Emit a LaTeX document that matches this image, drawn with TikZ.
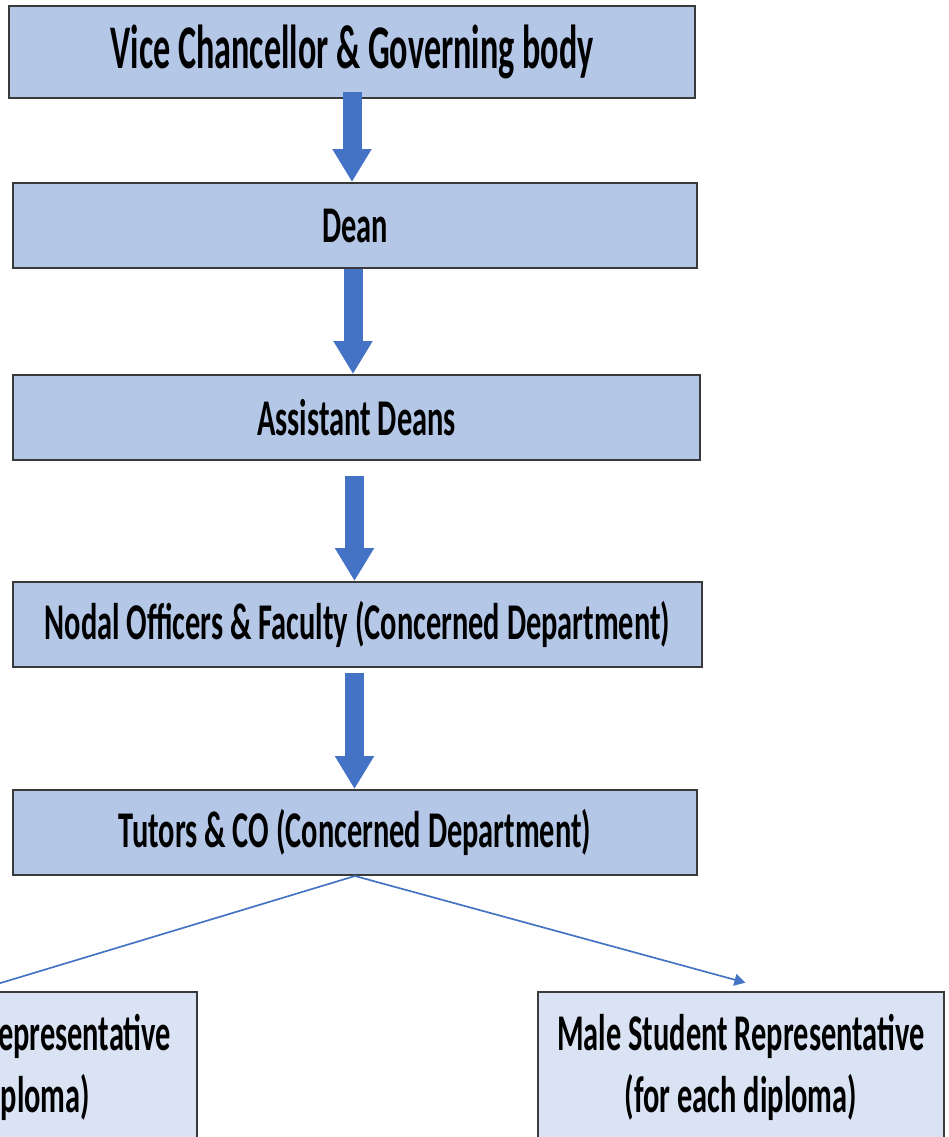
\documentclass[tikz,border=0pt]{standalone}
\usepackage{fontspec}
\newfontfamily\chartfont{Carlito}[FakeStretch=0.59]
\newfontfamily\headfont{Carlito}[FakeStretch=0.55]
\usetikzlibrary{positioning,arrows.meta}
\definecolor{cBox}{HTML}{B4C7E7}
\definecolor{cLow}{HTML}{DAE3F3}
\definecolor{cArrow}{HTML}{4472C4}
\definecolor{cEdge}{HTML}{3A3A3A}
\tikzset{
  base/.style={draw=cEdge,line width=0.6mm,align=center,inner sep=0pt,
    font=\chartfont\bfseries\fontsize{44}{53}\selectfont},
  rank/.style={base,fill=cBox,minimum height=25.5mm,minimum width=205.2mm},
  rep/.style={base,fill=cLow,minimum height=45mm,minimum width=121.8mm},
  bigarr/.style={-{Triangle[width=11.1mm,length=9.9mm]},line width=5.7mm,draw=cArrow,fill=cArrow},
  arr/.style={-{Triangle[width=3.6mm,length=3.3mm]},line width=0.5mm,draw=cArrow,fill=cArrow}}

\begin{document}
\begin{tikzpicture}[x=0.3mm,y=-0.3mm]
\clip (0,0) rectangle (948,1137);
\node[rank,minimum height=27.6mm,minimum width=205.8mm,
  font=\headfont\bfseries\fontsize{53}{60}\selectfont] (vc) at (352,52) {Vice Chancellor \& Governing body};
\node[rank, below=24.9mm of vc, xshift=0.9mm] (dean) {Dean};
\node[rank, below=31.5mm of dean, xshift=0.45mm, minimum width=206.1mm] (adean) {Assistant Deans};
\node[rank, below=36mm of adean, xshift=0.3mm, minimum width=206.7mm] (nodal) {Nodal Officers \& Faculty (Concerned Department)};
\node[rank, below=36.3mm of nodal, xshift=-0.75mm] (tutor) {Tutors \& CO (Concerned Department)};
\node[rep, below=34.5mm of tutor, xshift=115.8mm] (male) {Male Student Representative\\(for each diploma)};
\node[rep, below=34.5mm of tutor, xshift=-114.3mm, minimum width=133.8mm] (female) {Female Student Representative\\(for each diploma)};
% thick links down the chain
\draw[bigarr] ([yshift=2.1mm]vc.south) -- (vc.south |- dean.north);
\draw[bigarr] ([xshift=-0.6mm]dean.south) -- ([xshift=-0.6mm]dean.south |- adean.north);
\draw[bigarr] ([xshift=-0.6mm,yshift=-4.5mm]adean.south) -- ([xshift=-0.6mm]adean.south |- nodal.north);
\draw[bigarr] ([xshift=-0.9mm,yshift=-1.5mm]nodal.south) -- ([xshift=-0.9mm]nodal.south |- tutor.north);
% student representatives
\draw[arr, shorten >=2.5mm] (tutor.south) -- (female.north);
\draw[arr, shorten >=9.5mm] (tutor.south) -- ([xshift=10.5mm]male.north);
\end{tikzpicture}
\end{document}
